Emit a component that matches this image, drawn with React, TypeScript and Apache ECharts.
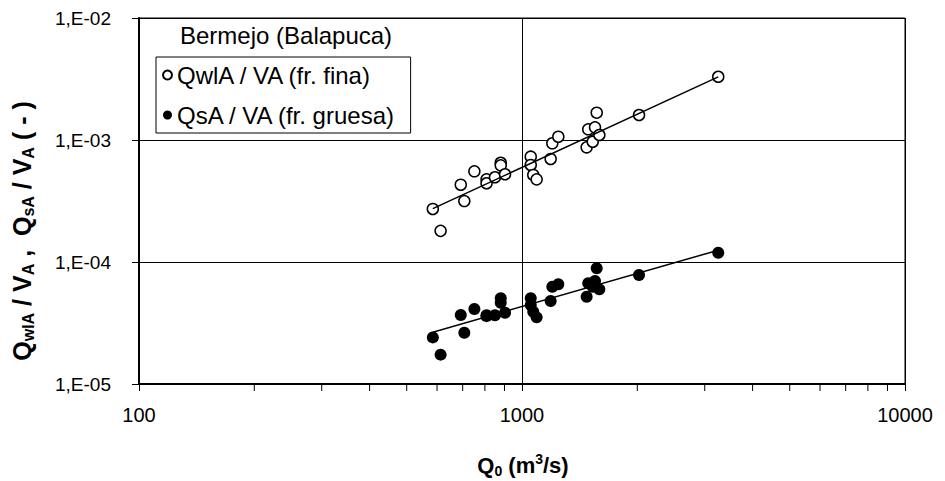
import React, { useEffect, useRef } from "react";
import * as echarts from "echarts";

// ---- data ----
const dischargeQ = [585, 613, 692, 707, 751, 808, 808, 850, 880, 880, 903, 1054, 1054, 1070, 1092, 1188, 1200, 1244, 1475, 1489, 1530, 1551, 1567, 1592, 2021, 3254];
const fineRatio = [2.72e-4, 1.8e-4, 4.3e-4, 3.16e-4, 5.54e-4, 4.76e-4, 4.42e-4, 4.95e-4, 6.51e-4, 6.2e-4, 5.24e-4, 7.3e-4, 6.24e-4, 5.17e-4, 4.76e-4, 6.99e-4, 9.4e-4, 1.064e-3, 8.71e-4, 1.224e-3, 9.68e-4, 1.27e-3, 1.674e-3, 1.099e-3, 1.603e-3, 3.3e-3];
const coarseRatio = [2.41e-5, 1.74e-5, 3.68e-5, 2.63e-5, 4.12e-5, 3.66e-5, 3.6e-5, 3.66e-5, 5.04e-5, 4.64e-5, 3.84e-5, 5.04e-5, 4.44e-5, 3.91e-5, 3.52e-5, 4.79e-5, 6.27e-5, 6.57e-5, 5.19e-5, 6.69e-5, 6.27e-5, 7.0e-5, 8.88e-5, 5.97e-5, 7.82e-5, 1.19e-4];
const trendQ = [585, 3254];
const fineTrend = [2.74e-4, 3.29e-3];
const coarseTrend = [2.66e-5, 1.25e-4];
const xMinorTicks = [200, 300, 400, 500, 600, 700, 800, 900, 2000, 3000, 4000, 5000, 6000, 7000, 8000, 9000];
const xTickLabels = ["100", "1000", "10000"];
const yTickLabels = ["1,E-05", "1,E-04", "1,E-03", "1,E-02"];
const seriesNames = ["QwlA / VA (fr. fina)", "QsA / VA (fr. gruesa)"];
const legendTitle = "Bermejo (Balapuca)";

const FONT = '"Liberation Sans", Arial, sans-serif';

export default function App() {
  const ref = useRef<HTMLDivElement>(null);
  useEffect(() => {
    if (!ref.current) return;
    const chart = echarts.init(ref.current, null, { renderer: "svg" });
    const pairs = (xs: number[], ys: number[]) => xs.map((x, i) => [x, ys[i]]);
    const rich = (size: number, sub: number) => ({
      b: { fontSize: size, fontWeight: "bold", fontFamily: FONT, color: "#000", lineHeight: size + 4 },
      s: { fontSize: sub, fontWeight: "bold", fontFamily: FONT, color: "#000", lineHeight: sub, verticalAlign: "bottom" },
      p: { fontSize: sub, fontWeight: "bold", fontFamily: FONT, color: "#000", lineHeight: sub, verticalAlign: "top" },
    });
    chart.setOption({
      animation: false,
      backgroundColor: "#fff",
      textStyle: { fontFamily: FONT },
      grid: { left: 139, right: 40, top: 18, bottom: 97, show: true, borderColor: "#000", borderWidth: 1 },
      xAxis: {
        type: "log",
        logBase: 10,
        min: 100,
        max: 10000,
        axisLine: { show: true, lineStyle: { color: "#000", width: 2 } },
        axisTick: { show: true, inside: false, length: 7, lineStyle: { color: "#000", width: 1 } },
        axisLabel: {
          color: "#000",
          fontSize: 20,
          fontFamily: FONT,
          margin: 21,
          formatter: (v: number) => xTickLabels[Math.round(Math.log10(v)) - 2] ?? "",
        },
        splitLine: { show: true, lineStyle: { color: "#000", width: 1 } },
        minorTick: { show: false },
      },
      yAxis: {
        type: "log",
        logBase: 10,
        min: 1e-5,
        max: 1e-2,
        axisLine: { show: true, lineStyle: { color: "#000", width: 2 } },
        axisTick: { show: true, inside: false, length: 7, lineStyle: { color: "#000", width: 1 } },
        axisLabel: {
          color: "#000",
          fontSize: 19,
          fontFamily: FONT,
          margin: 28,
          formatter: (v: number) => yTickLabels[Math.round(Math.log10(v)) + 5] ?? "",
        },
        splitLine: { show: true, lineStyle: { color: "#000", width: 1 } },
      },
      legend: {
        data: seriesNames,
        orient: "vertical",
        left: 156,
        top: 57,
        padding: [4, 14, 4, 6],
        itemGap: 12,
        itemWidth: 9,
        itemHeight: 9,
        backgroundColor: "#fff",
        borderColor: "#000",
        borderWidth: 1,
        textStyle: { color: "#000", fontSize: 24, lineHeight: 28, fontFamily: FONT },
      },
      graphic: [
        {
          type: "text",
          left: 180,
          top: 23,
          style: { text: legendTitle, fontSize: 24, fontFamily: FONT, fill: "#000" },
        },
        {
          type: "text",
          x: 22,
          y: 231,
          rotation: Math.PI / 2,
          style: {
            text: "{b|Q}{s|wlA}{b| / V}{s|A}{b| ,  Q}{s|sA}{b| / V}{s|A}{b| ( - )}",
            rich: rich(25, 16),
            align: "center",
            verticalAlign: "middle",
          },
        },
        {
          type: "text",
          x: 523,
          y: 465,
          style: {
            text: "{b|Q}{s|0}{b| (m}{p|3}{b|/s)}",
            rich: rich(22, 14),
            align: "center",
            verticalAlign: "middle",
          },
        },
      ],
      series: [
        {
          name: seriesNames[0],
          type: "scatter",
          data: pairs(dischargeQ, fineRatio),
          symbol: "circle",
          symbolSize: 11,
          itemStyle: { color: "#fff", borderColor: "#000", borderWidth: 1.5, opacity: 1 },
          z: 3,
        },
        {
          name: seriesNames[1],
          type: "scatter",
          data: pairs(dischargeQ, coarseRatio),
          symbol: "circle",
          symbolSize: 12,
          itemStyle: { color: "#000", borderColor: "#000", borderWidth: 0, opacity: 1 },
          z: 3,
        },
        {
          name: "fineTrend",
          type: "line",
          data: pairs(trendQ, fineTrend),
          showSymbol: false,
          symbol: "none",
          lineStyle: { color: "#000", width: 1.5 },
          z: 4,
          silent: true,
        },
        {
          name: "coarseTrend",
          type: "line",
          data: pairs(trendQ, coarseTrend),
          showSymbol: false,
          symbol: "none",
          lineStyle: { color: "#000", width: 1.5 },
          z: 4,
          silent: true,
        },
        {
          name: "minorTicks",
          type: "scatter",
          data: xMinorTicks.map((x) => [x, 1e-5]),
          symbol: "rect",
          symbolSize: [1, 6],
          symbolOffset: [0, 4],
          itemStyle: { color: "#000", opacity: 1 },
          clip: false,
          silent: true,
          z: 5,
        },
      ],
    });
    return () => chart.dispose();
  }, []);
  return <div ref={ref} style={{ position: "fixed", left: 0, top: 0, width: 945, height: 481 }} />;
}
